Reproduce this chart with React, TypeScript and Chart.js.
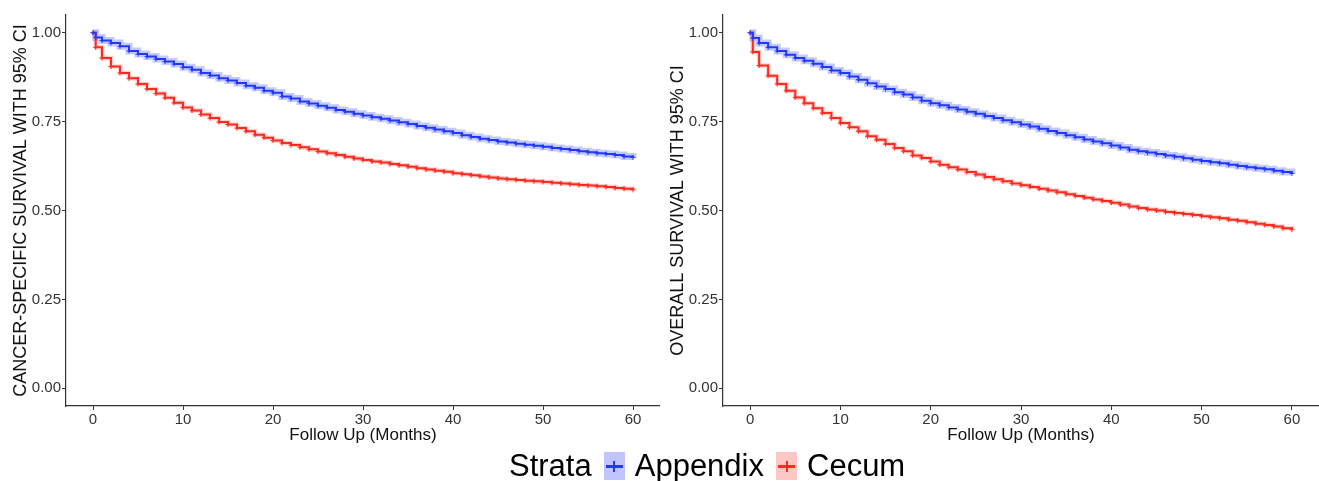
import React, { useEffect, useRef } from "react";
import { Chart, registerables } from "chart.js";

Chart.register(...registerables);

// ---- data ----
const months = [
  0, 0.3, 1, 2, 3, 4, 5, 6, 7, 8, 9, 10, 11, 12, 13, 14, 15, 16, 17, 18, 19, 20,
  21, 22, 23, 24, 25, 26, 27, 28, 29, 30, 31, 32, 33, 34, 35, 36, 37, 38, 39, 40,
  41, 42, 43, 44, 45, 46, 47, 48, 49, 50, 51, 52, 53, 54, 55, 56, 57, 58, 59, 60,
];

const csAppendix = [
  1.0, 0.987,
  0.978, 0.971, 0.962, 0.949, 0.94, 0.933, 0.926, 0.919, 0.912, 0.903,
  0.896, 0.887, 0.88, 0.872, 0.866, 0.859, 0.851, 0.845, 0.837, 0.831,
  0.821, 0.815, 0.807, 0.801, 0.795, 0.789, 0.783, 0.778, 0.772, 0.767,
  0.762, 0.758, 0.753, 0.748, 0.743, 0.738, 0.733, 0.728, 0.723, 0.718,
  0.712, 0.707, 0.702, 0.698, 0.694, 0.691, 0.688, 0.685, 0.682, 0.679,
  0.676, 0.673, 0.67, 0.667, 0.664, 0.661, 0.659, 0.656, 0.652, 0.649,
];

const csCecum = [
  1.0, 0.959,
  0.929, 0.905, 0.887, 0.872, 0.856, 0.842, 0.829, 0.817, 0.803, 0.79,
  0.781, 0.77, 0.76, 0.749, 0.742, 0.732, 0.723, 0.713, 0.705, 0.697,
  0.69, 0.684, 0.678, 0.672, 0.666, 0.661, 0.656, 0.651, 0.646, 0.642,
  0.638, 0.635, 0.631, 0.627, 0.623, 0.619, 0.615, 0.612, 0.609, 0.605,
  0.602, 0.599, 0.596, 0.593, 0.59, 0.588, 0.586, 0.584, 0.582, 0.58,
  0.578, 0.576, 0.574, 0.572, 0.57, 0.568, 0.566, 0.563, 0.561, 0.558,
];

const osAppendix = [
  1.0, 0.985,
  0.971, 0.959, 0.949, 0.938, 0.929, 0.921, 0.913, 0.904, 0.894, 0.887,
  0.877, 0.868, 0.858, 0.849, 0.842, 0.833, 0.826, 0.818, 0.809, 0.802,
  0.796, 0.79, 0.784, 0.778, 0.772, 0.766, 0.76, 0.754, 0.748, 0.742,
  0.736, 0.73, 0.724, 0.718, 0.712, 0.706, 0.7, 0.694, 0.689, 0.683,
  0.677, 0.671, 0.667, 0.663, 0.659, 0.655, 0.651, 0.647, 0.643, 0.639,
  0.636, 0.633, 0.629, 0.625, 0.622, 0.619, 0.616, 0.612, 0.608, 0.604,
];

const osCecum = [
  1.0, 0.946,
  0.908, 0.879, 0.856, 0.837, 0.818, 0.802, 0.788, 0.774, 0.76, 0.746,
  0.734, 0.723, 0.709, 0.699, 0.687, 0.676, 0.667, 0.655, 0.648, 0.638,
  0.629, 0.622, 0.615, 0.608, 0.601, 0.594, 0.588, 0.582, 0.576, 0.571,
  0.566, 0.561, 0.556, 0.551, 0.546, 0.541, 0.536, 0.531, 0.527, 0.522,
  0.517, 0.511, 0.507, 0.503, 0.5, 0.496, 0.493, 0.49, 0.487, 0.484,
  0.481, 0.478, 0.474, 0.471, 0.467, 0.463, 0.459, 0.455, 0.45, 0.446,
];

const xTicks = [0, 10, 20, 30, 40, 50, 60];
const yTicks = [0, 0.25, 0.5, 0.75, 1.0];
const strataNames = ["Appendix", "Cecum"];
const legendTitle = "Strata";
const yTitles = ["CANCER-SPECIFIC SURVIVAL WITH 95% CI", "OVERALL SURVIVAL WITH 95% CI"];
const xTitle = "Follow Up (Months)";

// ---- styles ----
const FONT = "'Liberation Sans', Arial, Helvetica, sans-serif";
const BLUE = "#2038ff";
const RED = "#ff2b20";
const BLUE_BAND = "rgba(60,80,255,0.30)";
const RED_BAND = "rgba(255,70,60,0.25)";
const AXIS = "#333333";

function toPoints(values: number[]) {
  return months.map((m, i) => ({ x: m, y: values[i] }));
}

function Panel(props: {
  left: number;
  width: number;
  yTitle: string;
  appendix: number[];
  cecum: number[];
}) {
  const ref = useRef<HTMLCanvasElement | null>(null);
  const H = 450;

  useEffect(() => {
    if (!ref.current) return;
    const band = (vals: number[], color: string, w: number, label: string) => ({
      label,
      data: toPoints(vals),
      stepped: true,
      borderColor: color,
      borderWidth: w,
      pointRadius: 0,
      fill: false,
      order: 2,
    });
    const line = (vals: number[], color: string, label: string) => ({
      label,
      data: toPoints(vals),
      stepped: true,
      borderColor: color,
      backgroundColor: color,
      borderWidth: 2,
      pointStyle: "cross",
      pointRadius: 2.5,
      pointBorderWidth: 1,
      pointBorderColor: color,
      fill: false,
      order: 1,
    });
    const chart = new Chart(ref.current, {
      type: "line",
      data: {
        datasets: [
          band(props.appendix, BLUE_BAND, 7, strataNames[0] + " CI"),
          band(props.cecum, RED_BAND, 4.5, strataNames[1] + " CI"),
          line(props.appendix, BLUE, strataNames[0]),
          line(props.cecum, RED, strataNames[1]),
        ] as any,
      },
      options: {
        animation: false,
        responsive: false,
        maintainAspectRatio: false,
        layout: { autoPadding: false, padding: { top: 15, right: 0, bottom: 0, left: 0 } },
        plugins: {
          legend: { display: false },
          tooltip: { enabled: false },
        },
        scales: {
          x: {
            type: "linear",
            min: -3,
            max: 63,
            afterBuildTicks: (s: any) => {
              s.ticks = xTicks.map((v) => ({ value: v }));
            },
            afterFit: (s: any) => {
              s.height = 44;
              s.paddingLeft = 0;
              s.paddingRight = 0;
            },
            ticks: {
              font: { family: FONT, size: 15 },
              color: AXIS,
              padding: 1,
              maxRotation: 0,
              callback: (v: any) => String(v),
            },
            grid: {
              display: true,
              drawOnChartArea: false,
              drawTicks: true,
              tickLength: 4,
              color: AXIS,
            },
            border: { display: true, color: AXIS, width: 1.2 },
            title: {
              display: true,
              text: xTitle,
              font: { family: FONT, size: 17 },
              color: "#111",
              padding: { top: 0, bottom: 4 },
            },
          },
          y: {
            type: "linear",
            min: -0.05,
            max: 1.05,
            afterBuildTicks: (s: any) => {
              s.ticks = yTicks.map((v) => ({ value: v }));
            },
            afterFit: (s: any) => {
              s.width = 66;
              s.paddingTop = 0;
              s.paddingBottom = 0;
            },
            ticks: {
              font: { family: FONT, size: 15 },
              color: AXIS,
              padding: 1,
              callback: (v: any) => Number(v).toFixed(2),
            },
            grid: {
              display: true,
              drawOnChartArea: false,
              drawTicks: true,
              tickLength: 4,
              color: AXIS,
            },
            border: { display: true, color: AXIS, width: 1.2 },
            title: {
              display: true,
              text: props.yTitle,
              font: { family: FONT, size: 18 },
              color: "#111",
              padding: { top: 10, bottom: 0 },
            },
          },
        },
      } as any,
    });
    return () => chart.destroy();
  }, []);

  return (
    <canvas
      ref={ref}
      width={props.width}
      height={H}
      style={{
        position: "absolute",
        left: props.left,
        top: 0,
        width: props.width,
        height: H,
      }}
    />
  );
}

function LegendKey(props: { fill: string; color: string }) {
  return (
    <span
      style={{
        position: "relative",
        display: "inline-block",
        width: 21,
        height: 28,
        background: props.fill,
        margin: "0 10px 0 12px",
      }}
    >
      <span
        style={{
          position: "absolute",
          left: 2,
          right: 2,
          top: 13,
          height: 2.5,
          background: props.color,
        }}
      />
      <span
        style={{
          position: "absolute",
          left: 9.5,
          top: 9,
          width: 2,
          height: 11,
          background: props.color,
        }}
      />
    </span>
  );
}

export default function App() {
  return (
    <div
      style={{
        position: "absolute",
        left: 0,
        top: 0,
        width: 1319,
        height: 481,
        background: "#ffffff",
        overflow: "hidden",
        fontFamily: FONT,
      }}
    >
      <Panel left={0} width={660} yTitle={yTitles[0]} appendix={csAppendix} cecum={csCecum} />
      <Panel left={657} width={662} yTitle={yTitles[1]} appendix={osAppendix} cecum={osCecum} />
      <div
        style={{
          position: "absolute",
          left: 509,
          top: 451,
          height: 30,
          display: "flex",
          alignItems: "center",
          fontSize: 31,
          color: "#000",
          whiteSpace: "nowrap",
          lineHeight: "30px",
        }}
      >
        <span>{legendTitle}</span>
        <LegendKey fill="rgba(60,70,255,0.32)" color={BLUE} />
        <span>{strataNames[0]}</span>
        <LegendKey fill="rgba(255,80,70,0.32)" color={RED} />
        <span>{strataNames[1]}</span>
      </div>
    </div>
  );
}
